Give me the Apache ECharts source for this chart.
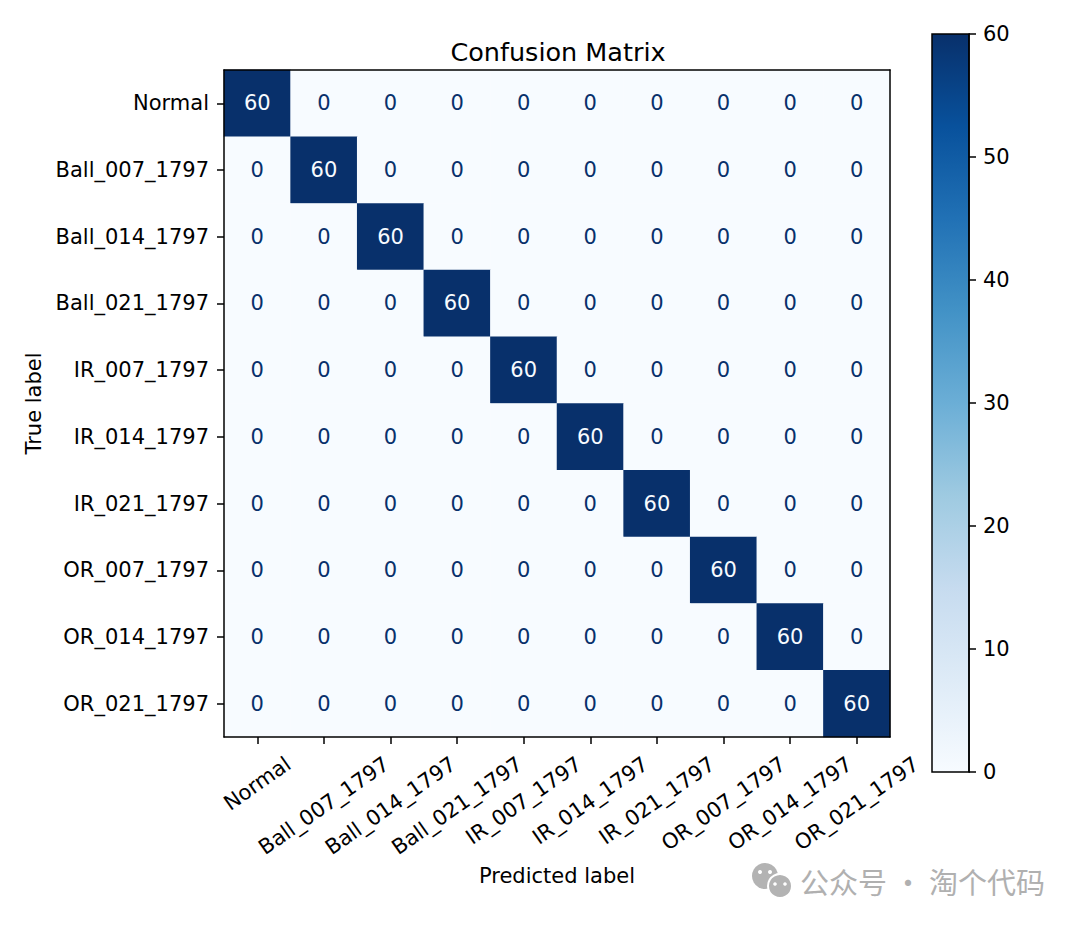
<!DOCTYPE html>
<html lang="en">
<head>
    <meta charset="UTF-8">
    <title>Confusion Matrix</title>
    <script src="https://cdn.jsdelivr.net/npm/echarts@6/dist/echarts.min.js"></script>
    <style>
        html, body { margin: 0; padding: 0; background: #fff; }
    </style>
</head>
<body>
    <div id="chart" style="width:1080px;height:926px"></div>
<script>
    // class names, same order on both axes
    const labels = ['Normal', 'Ball_007_1797', 'Ball_014_1797', 'Ball_021_1797', 'IR_007_1797',
        'IR_014_1797', 'IR_021_1797', 'OR_007_1797', 'OR_014_1797', 'OR_021_1797'];

    // rows = true label, cols = predicted label
    const matrix = [
        [60, 0, 0, 0, 0, 0, 0, 0, 0, 0],
        [0, 60, 0, 0, 0, 0, 0, 0, 0, 0],
        [0, 0, 60, 0, 0, 0, 0, 0, 0, 0],
        [0, 0, 0, 60, 0, 0, 0, 0, 0, 0],
        [0, 0, 0, 0, 60, 0, 0, 0, 0, 0],
        [0, 0, 0, 0, 0, 60, 0, 0, 0, 0],
        [0, 0, 0, 0, 0, 0, 60, 0, 0, 0],
        [0, 0, 0, 0, 0, 0, 0, 60, 0, 0],
        [0, 0, 0, 0, 0, 0, 0, 0, 60, 0],
        [0, 0, 0, 0, 0, 0, 0, 0, 0, 60]
    ];
    const colorbarMax = [60];

    const blues = ['#f7fbff', '#deebf7', '#c6dbef', '#9ecae1', '#6baed6', '#4292c6', '#2171b5', '#08519c', '#08306b'];
    const FONT = 'DejaVu Sans';

    let cells = [];
    matrix.forEach((row, r) => {
        row.forEach((v, c) => {
            cells.push({
                value: [c, r, v],
                label: { color: v > 30 ? '#f7fbff' : '#08306b' }
            });
        });
    });

    // measure text width for matplotlib-like rotated tick labels
    const ctx = document.createElement('canvas').getContext('2d');
    ctx.font = '21px "' + FONT + '"';
    const ang = 35 * Math.PI / 180;

    const tick = { show: true, interval: 0, alignWithLabel: true, length: 7, lineStyle: { color: '#000', width: 1.5 } };
    const spine = { show: true, lineStyle: { color: '#000', width: 1.5 } };

    let myChart = echarts.init(document.getElementById('chart'), null, { renderer: 'svg' });
    let option = {
        backgroundColor: '#fff',
        animation: false,
        textStyle: { fontFamily: FONT },
        title: {
            text: 'Confusion Matrix',
            left: 553,
            textAlign: 'center',
            top: 34,
            textStyle: { fontFamily: FONT, fontSize: 25.5, fontWeight: 'normal', color: '#000' }
        },
        grid: [
            { left: 224, top: 70, width: 666, height: 667, show: false },
            { left: 932, top: 34, width: 37, height: 738, show: true, z: 10, borderColor: '#000', borderWidth: 1.5, backgroundColor: 'transparent' }
        ],
        xAxis: [
            {
                type: 'category', data: labels, gridIndex: 0, z: 10,
                name: 'Predicted label', nameLocation: 'middle', nameGap: 128,
                nameTextStyle: { fontFamily: FONT, fontSize: 21, color: '#000' },
                axisLine: spine,
                axisTick: tick,
                axisLabel: { show: true, interval: 0, color: 'rgba(0,0,0,0)', fontSize: 1 },
                splitLine: { show: false }
            },
            {
                type: 'category', data: [''], gridIndex: 1,
                axisLine: { show: false }, axisTick: { show: false }, axisLabel: { show: false }
            },
            {
                // top spine
                type: 'category', data: labels, gridIndex: 0, position: 'top', z: 10,
                axisLine: spine, axisTick: { show: false }, axisLabel: { show: false }
            }
        ],
        yAxis: [
            {
                type: 'category', data: labels, gridIndex: 0, inverse: true, z: 10,
                name: 'True label', nameLocation: 'middle', nameGap: 180,
                nameTextStyle: { fontFamily: FONT, fontSize: 21, color: '#000' },
                axisLine: spine,
                axisTick: tick,
                axisLabel: { interval: 0, fontFamily: FONT, fontSize: 21, color: '#000', margin: 15, padding: [3, 0, 0, 0] },
                splitLine: { show: false }
            },
            {
                type: 'value', gridIndex: 1, position: 'right', min: 0, max: 60, interval: 10, z: 10,
                axisLine: spine,
                axisTick: { show: true, length: 7, lineStyle: { color: '#000', width: 1.5 } },
                axisLabel: { fontFamily: FONT, fontSize: 21, color: '#000', margin: 14 },
                splitLine: { show: false }
            },
            {
                // right spine
                type: 'category', data: labels, gridIndex: 0, position: 'right', inverse: true, z: 10,
                axisLine: spine, axisTick: { show: false }, axisLabel: { show: false }
            }
        ],
        visualMap: {
            show: false, min: 0, max: 60, seriesIndex: 0,
            inRange: { color: blues }
        },
        series: [
            {
                type: 'heatmap',
                xAxisIndex: 0, yAxisIndex: 0,
                data: cells,
                itemStyle: { borderWidth: 0 },
                label: { show: true, fontFamily: FONT, fontSize: 21 },
                emphasis: { disabled: true }
            },
            {
                // colorbar
                type: 'bar',
                xAxisIndex: 1, yAxisIndex: 1,
                data: colorbarMax,
                barWidth: '100%',
                silent: true,
                itemStyle: {
                    color: new echarts.graphic.LinearGradient(0, 1, 0, 0,
                        blues.map((c, i) => ({ offset: i / (blues.length - 1), color: c })))
                }
            },
            {
                // x tick labels, rotated with centred bounding box like matplotlib
                type: 'custom',
                xAxisIndex: 0, yAxisIndex: 0,
                clip: false, silent: true, z: 10,
                data: labels.map((l, i) => [i, 0]),
                renderItem: function (params, api) {
                    const i = api.value(0);
                    const x = api.coord([i, 0])[0];
                    const bottom = params.coordSys.y + params.coordSys.height;
                    const w = ctx.measureText(labels[i]).width;
                    const h = 24;
                    const halfH = (w * Math.sin(ang) + h * Math.cos(ang)) / 2;
                    return {
                        type: 'text',
                        x: x, y: bottom + 15 + halfH,
                        rotation: ang,
                        style: {
                            text: labels[i], align: 'center', verticalAlign: 'middle',
                            fontFamily: FONT, fontSize: 21, fill: '#000'
                        }
                    };
                }
            }
        ],
        graphic: [
            // watermark (wechat icon + account name)
            { type: 'circle', shape: { cx: 765, cy: 876, r: 13 }, style: { fill: '#b3b3b3' } },
            { type: 'circle', shape: { cx: 760, cy: 872, r: 2 }, style: { fill: '#fff' } },
            { type: 'circle', shape: { cx: 770, cy: 872, r: 2 }, style: { fill: '#fff' } },
            { type: 'circle', shape: { cx: 780, cy: 886, r: 12 }, style: { fill: '#b3b3b3', stroke: '#fff', lineWidth: 2 } },
            { type: 'circle', shape: { cx: 775, cy: 884, r: 1.8 }, style: { fill: '#fff' } },
            { type: 'circle', shape: { cx: 785, cy: 884, r: 1.8 }, style: { fill: '#fff' } },
            { type: 'text', left: 800, top: 866, style: { text: '公众号 · 淘个代码', fontFamily: 'Noto Sans CJK SC', fontSize: 29, fill: '#b0b0b0' } }
        ]
    };
    myChart.setOption(option);
</script>
</body>
</html>
